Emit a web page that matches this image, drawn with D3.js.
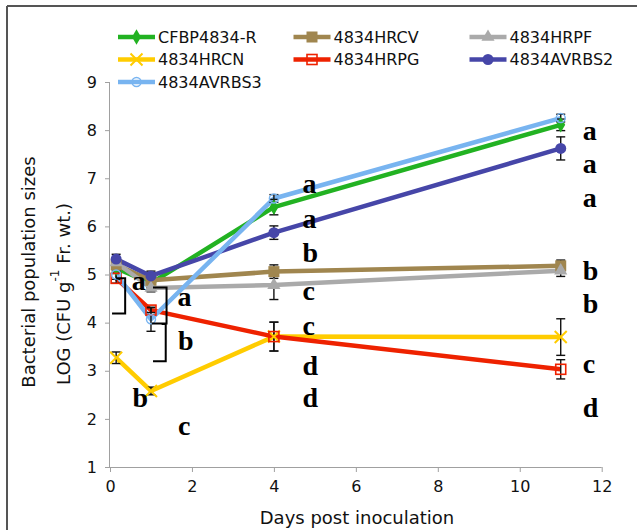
<!DOCTYPE html>
<html><head><meta charset="utf-8">
<script src="https://cdn.jsdelivr.net/npm/d3@7"></script>
<style>body{margin:0;background:#fff}svg{display:block}</style>
</head><body>
<svg id="c" width="637" height="530"></svg>
<script>
const days = [0.15, 1, 4, 11];
const seriesNames = ["CFBP4834-R","4834HRCV","4834HRPF","4834HRCN","4834HRPG","4834AVRBS2","4834AVRBS3"];
const vCFBP   = [5.13, 4.82, 6.40, 8.11];
const vHRCV   = [5.20, 4.88, 5.06, 5.18];
const vHRPF   = [5.25, 4.72, 4.78, 5.08];
const vHRCN   = [3.27, 2.58, 3.71, 3.70];
const vHRPG   = [4.92, 4.26, 3.71, 3.03];
const vAVRBS2 = [5.32, 4.97, 5.87, 7.62];
const vAVRBS3 = [5.00, 4.07, 6.58, 8.25];
const eCFBP   = [0.08, 0.10, 0.16, 0.12];
const eHRCV   = [0.10, 0.08, 0.14, 0.12];
const eHRPF   = [0.10, 0.08, 0.30, 0.12];
const eHRCN   = [0.12, 0.08, 0.30, 0.38];
const eHRPG   = [0.10, 0.05, 0.30, 0.20];
const eAVRBS2 = [0.10, 0.10, 0.14, 0.24];
const eAVRBS3 = [0.10, 0.25, 0.08, 0.08];
const xTicks = [0,2,4,6,8,10,12];
const yTicks = [1,2,3,4,5,6,7,8,9];
// significance letters: [day, value, letter]
const letters = [
  [11.54,7.79,"a"],[11.54,7.11,"a"],[11.54,6.40,"a"],[11.54,4.89,"b"],[11.54,4.20,"b"],[11.54,2.95,"c"],[11.54,2.04,"d"],
  [4.70,6.69,"a"],[4.70,5.97,"a"],[4.70,5.26,"b"],[4.70,4.47,"c"],[4.70,3.74,"c"],[4.70,2.91,"d"],[4.70,2.25,"d"],
  [0.53,4.68,"a"],[1.65,4.35,"a"],[1.66,3.43,"b"],[0.55,2.25,"b"],[1.66,1.66,"c"]
];
// brackets: [xVertical, yTop, yBottom, xTopEnd, xBottomEnd] in data units
const brackets = [
  [0.37, 4.92, 4.19, 0.15, 0.05],
  [1.38, 4.73, 3.98, 1.05, 1.02],
  [1.36, 3.97, 3.20, 1.26, 1.05]
];

const vals = [vCFBP,vHRCV,vHRPF,vHRCN,vHRPG,vAVRBS2,vAVRBS3];
const errs = [eCFBP,eHRCV,eHRPF,eHRCN,eHRPG,eAVRBS2,eAVRBS3];
const colors = ["#22b222","#a0864f","#aaaaaa","#ffcc00","#ee2200","#4646a8","#78b4f0"];
const markers = ["diamond","square","triangle","x","hsquare","circle","hcircle"];

const svg = d3.select("#c");
const x = d3.scaleLinear().domain([0,12]).range([110,601.7]);
const y = d3.scaleLinear().domain([1,9]).range([467,82]);

// frame
svg.append("line").attr("x1",7).attr("x2",637).attr("y1",6).attr("y2",6).attr("stroke","#555").attr("stroke-width",2);
svg.append("line").attr("x1",7).attr("x2",7).attr("y1",6).attr("y2",530).attr("stroke","#555").attr("stroke-width",2);

// axes
const xa = svg.append("g").attr("transform","translate(0,467)")
  .call(d3.axisBottom(x).tickValues(xTicks).tickSize(5).tickPadding(9).tickFormat(d3.format("d")));
const ya = svg.append("g").attr("transform","translate(110,0)")
  .call(d3.axisLeft(y).tickValues(yTicks).tickSize(5).tickPadding(8).tickFormat(d3.format("d")));
[xa,ya].forEach(a=>{
  a.selectAll("path").attr("stroke","#a0a0a0").attr("stroke-width",1);
  a.selectAll("line").attr("stroke","#a0a0a0");
  a.selectAll("text").attr("font-family","DejaVu Sans").attr("font-size",16).attr("fill","#111");
});
xa.select(".domain").attr("d","M110,0.5H601.7");
ya.select(".domain").attr("d","M-0.5,467V82");

// axis titles
svg.append("text").attr("x",357).attr("y",524).attr("text-anchor","middle")
  .attr("font-family","DejaVu Sans").attr("font-size",18).attr("fill","#111").text("Days post inoculation");
svg.append("text").attr("transform","translate(28,272) rotate(-90)").attr("text-anchor","middle")
  .attr("dominant-baseline","central").attr("font-family","DejaVu Sans").attr("font-size",18).attr("fill","#111")
  .text("Bacterial population sizes");
const t2 = svg.append("text").attr("transform","translate(63,294) rotate(-90)").attr("text-anchor","middle")
  .attr("dominant-baseline","central").attr("font-family","DejaVu Sans").attr("font-size",18).attr("fill","#111");
t2.append("tspan").text("LOG (CFU g");
t2.append("tspan").attr("dy",-8).attr("font-size",12).text("-1");
t2.append("tspan").attr("dy",8).text(" Fr. wt.)");

function drawMarker(g, type, cx, cy, color){
  if(type==="diamond"){
    g.append("path").attr("d",d3.symbol(d3.symbolDiamond,70)()).attr("transform",`translate(${cx},${cy})`).attr("fill",color);
  } else if(type==="square"){
    g.append("rect").attr("x",cx-5.5).attr("y",cy-5.5).attr("width",11).attr("height",11).attr("fill",color);
  } else if(type==="triangle"){
    g.append("path").attr("d",d3.symbol(d3.symbolTriangle,75)()).attr("transform",`translate(${cx},${cy})`).attr("fill",color);
  } else if(type==="x"){
    g.append("path").attr("d",`M${cx-6},${cy-6}L${cx+6},${cy+6}M${cx-6},${cy+6}L${cx+6},${cy-6}`).attr("stroke",color).attr("stroke-width",2);
  } else if(type==="hsquare"){
    g.append("rect").attr("x",cx-5).attr("y",cy-5).attr("width",10).attr("height",10).attr("fill","none").attr("stroke",color).attr("stroke-width",1.6);
  } else if(type==="circle"){
    g.append("circle").attr("cx",cx).attr("cy",cy).attr("r",5.5).attr("fill",color);
  } else if(type==="hcircle"){
    g.append("circle").attr("cx",cx).attr("cy",cy).attr("r",4.5).attr("fill","none").attr("stroke",color).attr("stroke-width",1.5);
  }
}

const line = d3.line().x(d=>x(d[0])).y(d=>y(d[1]));
const plot = svg.append("g");
vals.forEach((v,i)=>{
  const pts = days.map((d,j)=>[d,v[j]]);
  plot.append("path").attr("d",line(pts)).attr("fill","none").attr("stroke",colors[i]).attr("stroke-width",4.5).attr("stroke-linejoin","round");
});
// error bars
const eg = svg.append("g").attr("stroke","#111").attr("stroke-width",1.4);
vals.forEach((v,i)=>{
  days.forEach((d,j)=>{
    const cx = x(d), y1 = y(v[j]+errs[i][j]), y2 = y(v[j]-errs[i][j]);
    eg.append("line").attr("x1",cx).attr("x2",cx).attr("y1",y1).attr("y2",y2);
    eg.append("line").attr("x1",cx-4.5).attr("x2",cx+4.5).attr("y1",y1).attr("y2",y1);
    eg.append("line").attr("x1",cx-4.5).attr("x2",cx+4.5).attr("y1",y2).attr("y2",y2);
  });
});
const mg = svg.append("g");
vals.forEach((v,i)=>{
  days.forEach((d,j)=> drawMarker(mg, markers[i], x(d), y(v[j]), colors[i]));
});

// letters
svg.append("g").selectAll("text").data(letters).join("text")
  .attr("x",d=>x(d[0])).attr("y",d=>y(d[1]))
  .attr("font-family","Liberation Serif").attr("font-weight","bold").attr("font-size",28).attr("fill","#000")
  .text(d=>d[2]);

// brackets
svg.append("g").selectAll("path").data(brackets).join("path")
  .attr("d",b=>`M${x(b[3])},${y(b[1])}H${x(b[0])}V${y(b[2])}H${x(b[4])}`)
  .attr("fill","none").attr("stroke","#000").attr("stroke-width",2);

// legend
const colX = [118, 293.5, 469.5];
const rowY = [37, 59.5, 82];
seriesNames.forEach((n,i)=>{
  const cx = colX[i%3], cy = rowY[Math.floor(i/3)];
  const g = svg.append("g");
  g.append("line").attr("x1",cx).attr("x2",cx+37).attr("y1",cy).attr("y2",cy).attr("stroke",colors[i]).attr("stroke-width",4.5);
  drawMarker(g, markers[i], cx+18.5, cy, colors[i]);
  g.append("text").attr("x",cx+40).attr("y",cy).attr("dominant-baseline","central")
    .attr("font-family","DejaVu Sans").attr("font-size",16).attr("fill","#111").text(n);
});
</script>
</body></html>
